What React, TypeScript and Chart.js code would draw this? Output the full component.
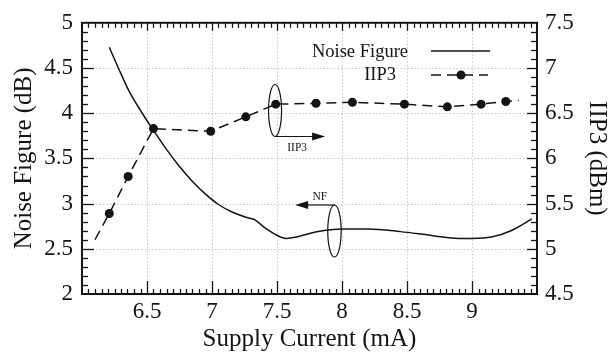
import React, { useEffect, useRef } from 'react';
import { Chart, registerables } from 'chart.js';

Chart.register(...registerables);

// ---- data ----
const nfCurrent = [6.21, 6.28, 6.36, 6.45, 6.55, 6.65, 6.75, 6.85, 6.95, 7.05, 7.15, 7.25, 7.3, 7.33, 7.4, 7.5, 7.57, 7.65, 7.75, 7.85, 8.0, 8.2, 8.45, 8.7, 8.9, 9.0, 9.15, 9.3, 9.46];
const nfValues = [4.73, 4.5, 4.25, 4.03, 3.81, 3.6, 3.41, 3.245, 3.105, 2.99, 2.91, 2.855, 2.835, 2.82, 2.74, 2.65, 2.615, 2.63, 2.67, 2.7, 2.72, 2.72, 2.69, 2.645, 2.615, 2.615, 2.63, 2.7, 2.83];

const iip3Current = [6.1, 6.21, 6.355, 6.55, 6.99, 7.26, 7.49, 7.8, 8.08, 8.48, 8.81, 9.07, 9.26, 9.36];
const iip3Values = [5.1, 5.39, 5.8, 6.33, 6.3, 6.46, 6.6, 6.61, 6.62, 6.6, 6.57, 6.6, 6.63, 6.64];

const xTickValues = [6.5, 7, 7.5, 8, 8.5, 9];
const nfTickValues = [2, 2.5, 3, 3.5, 4, 4.5, 5];
const iip3TickValues = [4.5, 5, 5.5, 6, 6.5, 7, 7.5];

const xTitle = 'Supply Current (mA)';
const nfTitle = 'Noise Figure (dB)';
const iip3Title = 'IIP3 (dBm)';
const legendLabels = ['Noise Figure', 'IIP3'];

const FONT = '"Liberation Serif", "Times New Roman", serif';
const INK = '#141414';

const decorPlugin = {
  id: 'decor',
  beforeDatasetsDraw(chart: any) {
    const { ctx, chartArea: a, scales } = chart;
    const xs = scales.x;
    const ys = scales.y;
    ctx.save();
    ctx.strokeStyle = '#c6c6c6';
    ctx.lineWidth = 1;
    ctx.setLineDash([1.5, 2]);
    for (const v of xTickValues) {
      const px = Math.round(xs.getPixelForValue(v)) + 0.5;
      ctx.beginPath(); ctx.moveTo(px, a.top); ctx.lineTo(px, a.bottom); ctx.stroke();
    }
    for (const v of nfTickValues) {
      if (v === 2 || v === 5) continue;
      const py = Math.round(ys.getPixelForValue(v)) + 0.5;
      ctx.beginPath(); ctx.moveTo(a.left, py); ctx.lineTo(a.right, py); ctx.stroke();
    }
    ctx.restore();
  },
  afterDatasetsDraw(chart: any) {
    const { ctx, chartArea: a, scales } = chart;
    const xs = scales.x;
    const ys = scales.y;
    const y1 = scales.y1;
    ctx.save();
    ctx.setLineDash([]);
    ctx.strokeStyle = INK;
    ctx.fillStyle = INK;

    // inward ticks
    ctx.lineWidth = 1.3;
    const seg = (x1: number, yA: number, x2: number, yB: number) => {
      ctx.beginPath(); ctx.moveTo(x1, yA); ctx.lineTo(x2, yB); ctx.stroke();
    };
    for (let i = 1; i < 70; i++) {
      const v = 6 + i * 0.05;
      const px = Math.round(xs.getPixelForValue(v)) + 0.5;
      const major = i % 10 === 0;
      seg(px, a.bottom, px, a.bottom - (major ? 13 : 5));
      seg(px, a.top, px, a.top + (major ? 8 : 5));
    }
    for (let i = 1; i < 30; i++) {
      const v = 2 + i * 0.1;
      const py = Math.round(ys.getPixelForValue(v)) + 0.5;
      const major = i % 5 === 0;
      seg(a.left, py, a.left + (major ? 12 : 6), py);
    }
    for (let i = 1; i < 30; i++) {
      const v = 4.5 + i * 0.1;
      const py = Math.round(y1.getPixelForValue(v)) + 0.5;
      const major = i % 5 === 0;
      seg(a.right, py, a.right - (major ? 10 : 6), py);
    }

    // frame
    ctx.lineWidth = 2;
    ctx.strokeRect(a.left, a.top, a.right - a.left, a.bottom - a.top);

    // legend
    ctx.font = `18.5px ${FONT}`;
    ctx.textAlign = 'right';
    ctx.textBaseline = 'alphabetic';
    ctx.fillText(legendLabels[0], a.left + 326, 57);
    ctx.fillText(legendLabels[1], a.left + 314, 80);
    ctx.lineWidth = 1.5;
    seg(a.left + 349, 51, a.left + 408, 51);
    ctx.setLineDash([10, 6]);
    seg(a.left + 349, 75, a.left + 406, 75);
    ctx.setLineDash([]);
    ctx.beginPath(); ctx.arc(a.left + 379, 75, 4.5, 0, Math.PI * 2); ctx.fill();

    // annotation: IIP3 ellipse + arrow
    ctx.lineWidth = 1.2;
    const arrowHead = (tx: number, ty: number, dir: number) => {
      ctx.beginPath();
      ctx.moveTo(tx, ty);
      ctx.lineTo(tx - dir * 13, ty - 4);
      ctx.lineTo(tx - dir * 13, ty + 4);
      ctx.closePath();
      ctx.fill();
    };
    const icx = xs.getPixelForValue(7.485);
    const icy = y1.getPixelForValue(6.53);
    ctx.beginPath(); ctx.ellipse(icx, icy, 6.5, 26, 0, 0, Math.PI * 2); ctx.stroke();
    const iax = xs.getPixelForValue(7.87);
    seg(icx, icy + 26, iax - 10, icy + 26);
    arrowHead(iax, icy + 26, 1);
    ctx.font = `11.5px ${FONT}`;
    ctx.textAlign = 'center';
    ctx.textBaseline = 'middle';
    ctx.fillText('IIP3', xs.getPixelForValue(7.655), y1.getPixelForValue(6.12));

    // annotation: NF ellipse + arrow
    const ncx = xs.getPixelForValue(7.942);
    const ncy = ys.getPixelForValue(2.697);
    ctx.beginPath(); ctx.ellipse(ncx, ncy, 6.7, 26, 0, 0, Math.PI * 2); ctx.stroke();
    const nax = xs.getPixelForValue(7.64);
    seg(ncx, ncy - 26, nax + 10, ncy - 26);
    arrowHead(nax, ncy - 26, -1);
    ctx.fillText('NF', xs.getPixelForValue(7.83), ys.getPixelForValue(3.07));

    ctx.restore();
  },
};

export default function App() {
  const ref = useRef<HTMLCanvasElement>(null);
  useEffect(() => {
    const tickFont = { family: FONT, size: 23 };
    const titleFont = { family: FONT, size: 25, lineHeight: 1.2 };
    const chart = new Chart(ref.current as HTMLCanvasElement, {
      type: 'line',
      data: {
        datasets: [
          {
            label: legendLabels[0],
            data: nfCurrent.map((c, i) => ({ x: c, y: nfValues[i] })),
            yAxisID: 'y',
            borderColor: INK,
            borderWidth: 1.5,
            pointRadius: 0,
            cubicInterpolationMode: 'monotone',
            fill: false,
          },
          {
            label: legendLabels[1],
            data: iip3Current.map((c, i) => ({ x: c, y: iip3Values[i] })),
            yAxisID: 'y1',
            borderColor: INK,
            borderWidth: 1.5,
            borderDash: [10, 6],
            pointRadius: (ctx: any) => (ctx.dataIndex === 0 || ctx.dataIndex === iip3Current.length - 1 ? 0 : 4.5),
            pointBackgroundColor: INK,
            pointBorderWidth: 0,
            tension: 0,
            fill: false,
          },
        ],
      } as any,
      options: {
        animation: false,
        responsive: false,
        devicePixelRatio: 1,
        layout: { padding: { top: 22, left: 0, right: 0, bottom: 0 } },
        plugins: { legend: { display: false }, tooltip: { enabled: false } },
        scales: {
          x: {
            type: 'linear',
            min: 6,
            max: 9.5,
            afterBuildTicks: (s: any) => { s.ticks = xTickValues.map((v) => ({ value: v })); },
            afterFit: (s: any) => { s.height = 62; },
            grid: { display: false, drawTicks: false },
            border: { display: false },
            ticks: { font: tickFont, color: INK, padding: 4, maxRotation: 0, autoSkip: false, callback: (v: any) => String(v) },
            title: { display: true, text: xTitle, font: titleFont, color: INK, padding: { top: 0, bottom: 2 } },
          },
          y: {
            type: 'linear',
            position: 'left',
            min: 2,
            max: 5,
            afterBuildTicks: (s: any) => { s.ticks = nfTickValues.map((v) => ({ value: v })); },
            afterFit: (s: any) => { s.width = 82; },
            grid: { display: false, drawTicks: false },
            border: { display: false },
            ticks: { font: tickFont, color: INK, padding: 9, autoSkip: false, callback: (v: any) => String(v) },
            title: { display: true, text: nfTitle, font: titleFont, color: INK, padding: { top: 9, bottom: 0 } },
          },
          y1: {
            type: 'linear',
            position: 'right',
            min: 4.5,
            max: 7.5,
            afterBuildTicks: (s: any) => { s.ticks = iip3TickValues.map((v) => ({ value: v })); },
            afterFit: (s: any) => { s.width = 72; },
            grid: { display: false, drawTicks: false },
            border: { display: false },
            ticks: { font: tickFont, color: INK, padding: 8, autoSkip: false, callback: (v: any) => String(v) },
            title: { display: true, text: iip3Title, font: { family: FONT, size: 25, lineHeight: 1 }, color: INK, padding: { top: 0, bottom: 0 } },
          },
        },
      } as any,
      plugins: [decorPlugin],
    });
    return () => chart.destroy();
  }, []);
  return (
    <div style={{ position: 'fixed', left: 0, top: 0, width: 609, height: 356, background: '#fff' }}>
      <canvas ref={ref} width={609} height={356} style={{ display: 'block', width: '609px', height: '356px' }} />
    </div>
  );
}
